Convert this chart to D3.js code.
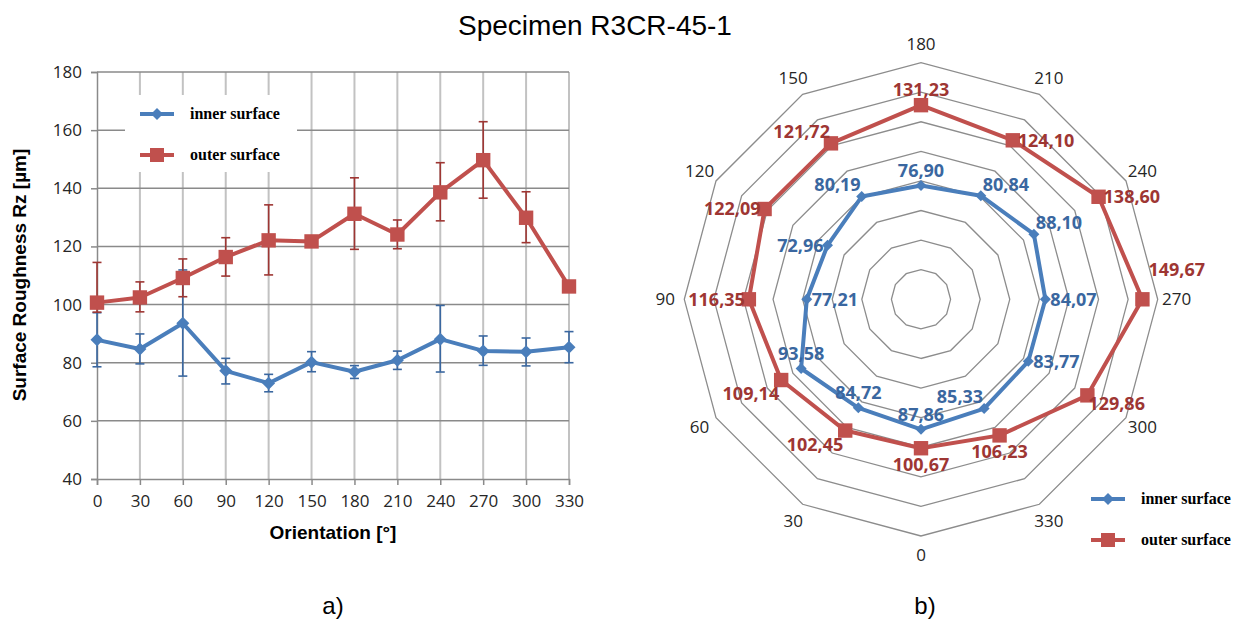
<!DOCTYPE html>
<html>
<head>
<meta charset="utf-8">
<script src="https://cdn.jsdelivr.net/npm/d3@7"></script>
<style>
  body { margin: 0; background: #fff; }
  svg { display: block; }
</style>
</head>
<body>
<svg id="svg" width="1240" height="622"></svg>
<script>
// orientations [deg]
const ORIENTATIONS = [0, 30, 60, 90, 120, 150, 180, 210, 240, 270, 300, 330];
// mean Rz values
const INNER = [87.86, 84.72, 93.58, 77.21, 72.96, 80.19, 76.90, 80.84, 88.10, 84.07, 83.77, 85.33];
const OUTER = [100.67, 102.45, 109.14, 116.35, 122.09, 121.72, 131.23, 124.10, 138.60, 149.67, 129.86, 106.23];
// error bar ends
const INNER_LOW = [78.6, 79.6, 75.4, 72.7, 70.0, 76.9, 74.6, 77.7, 76.8, 79.1, 78.9, 80.0];
const INNER_HIGH = [97.2, 89.9, 111.9, 81.5, 76.0, 83.8, 79.0, 84.0, 99.7, 89.2, 88.5, 90.7];
const OUTER_LOW = [97.4, 97.5, 102.7, 109.8, 110.2, 120.5, 119.0, 119.2, 128.8, 136.6, 121.3, 106.23];
const OUTER_HIGH = [114.5, 107.8, 115.7, 123.0, 134.3, 123.0, 143.6, 129.1, 148.8, 162.9, 138.8, 106.23];
// axis ticks
const Y_TICKS = [40, 60, 80, 100, 120, 140, 160, 180];
const RING_VALUES = [20, 40, 60, 80, 100, 120, 140, 160];
// data label side in the radar chart
const INNER_LABEL_SIDE = ["t", "t", "t", "r", "l", "tl", "t", "tr", "tr", "r", "r", "tl"];
const OUTER_LABEL_SIDE = ["b", "bl", "bl", "l", "l", "tl", "t", "r", "r", "rt", "br", "b"];

const BLUE = "#4a7ebb", RED = "#c0504d";
const BLUE_DARK = "#3a67a0", RED_DARK = "#9e3633";
const TICK_FONT = "'Open Sans', sans-serif";

var svg = d3.select("#svg");

//title
svg.append("text")
        .attr("x", 595).attr("y", 35)
        .attr("text-anchor", "middle")
        .style("font", "28px 'Liberation Sans', Arial, sans-serif")
        .text("Specimen R3CR-45-1");

svg.append("text").attr("x", 333).attr("y", 614).attr("text-anchor", "middle")
        .style("font", "24px 'Liberation Sans', Arial, sans-serif").text("a)");
svg.append("text").attr("x", 925).attr("y", 614).attr("text-anchor", "middle")
        .style("font", "24px 'Liberation Sans', Arial, sans-serif").text("b)");

function diamond(g, cx, cy, h, color) {
    g.append("path")
            .attr("d", "M" + cx + "," + (cy - h) + "L" + (cx + h) + "," + cy + "L" + cx + "," + (cy + h) + "L" + (cx - h) + "," + cy + "Z")
            .attr("fill", color);
}
function square(g, cx, cy, h, color) {
    g.append("rect")
            .attr("x", cx - h).attr("y", cy - h)
            .attr("width", 2 * h).attr("height", 2 * h)
            .attr("fill", color);
}

//---------------- a) line chart with error bars
var scaleX = d3.scalePoint().domain(ORIENTATIONS).range([97, 569]);
var scaleY = d3.scaleLinear().domain([40, 180]).range([479, 72]);

var left = svg.append("g");

//vertical grid
left.selectAll(".vgrid")
        .data(ORIENTATIONS.slice(1))
        .enter().append("line")
        .attr("x1", (d) => scaleX(d)).attr("x2", (d) => scaleX(d))
        .attr("y1", 72).attr("y2", 479)
        .attr("stroke", "#c2c2c2").attr("stroke-width", 2);
//horizontal grid
left.selectAll(".hgrid")
        .data(Y_TICKS.slice(1))
        .enter().append("line")
        .attr("x1", 97).attr("x2", 569)
        .attr("y1", (d) => scaleY(d)).attr("y2", (d) => scaleY(d))
        .attr("stroke", "#8a8a8a").attr("stroke-width", 1.5);

var yAxis = d3.axisLeft(scaleY).tickValues(Y_TICKS).tickSize(6).tickPadding(9);
var gy = left.append("g").attr("transform", "translate(97,0)").call(yAxis);
var xAxis = d3.axisBottom(scaleX).tickSize(6).tickPadding(10);
var gx = left.append("g").attr("transform", "translate(0,479)").call(xAxis);
[gx, gy].forEach(function (g) {
    g.select(".domain").attr("stroke", "#8a8a8a").attr("stroke-width", 1.5);
    g.selectAll(".tick line").attr("stroke", "#8a8a8a").attr("stroke-width", 1.5);
    g.selectAll(".tick text").style("font-family", TICK_FONT).style("font-size", "17px").attr("fill", "#262626");
});

//axis titles
left.append("text")
        .attr("transform", "translate(26,275) rotate(-90)")
        .attr("text-anchor", "middle")
        .style("font", "bold 19px 'Liberation Sans', Arial, sans-serif")
        .text("Surface Roughness Rz [µm]");
left.append("text")
        .attr("x", 333).attr("y", 539)
        .attr("text-anchor", "middle")
        .style("font", "bold 19px 'Liberation Sans', Arial, sans-serif")
        .text("Orientation [°]");

//legend box covers the grid
left.append("rect").attr("x", 125).attr("y", 95).attr("width", 172).attr("height", 77).attr("fill", "#fff");

function errorBars(g, low, high, color) {
    ORIENTATIONS.forEach(function (o, i) {
        if (high[i] - low[i] < 0.5) return;
        var x = scaleX(o);
        g.append("line").attr("x1", x).attr("x2", x)
                .attr("y1", scaleY(low[i])).attr("y2", scaleY(high[i]))
                .attr("stroke", color).attr("stroke-width", 1.6);
        [low[i], high[i]].forEach(function (v) {
            g.append("line").attr("x1", x - 4.5).attr("x2", x + 4.5)
                    .attr("y1", scaleY(v)).attr("y2", scaleY(v))
                    .attr("stroke", color).attr("stroke-width", 1.6);
        });
    });
}

var line = d3.line().x((d) => scaleX(d[0])).y((d) => scaleY(d[1]));

//inner surface
errorBars(left, INNER_LOW, INNER_HIGH, BLUE_DARK);
left.append("path")
        .attr("d", line(ORIENTATIONS.map((o, i) => [o, INNER[i]])))
        .attr("fill", "none").attr("stroke", BLUE).attr("stroke-width", 4).attr("stroke-linejoin", "round");
ORIENTATIONS.forEach((o, i) => diamond(left, scaleX(o), scaleY(INNER[i]), 6.5, BLUE));

//outer surface
errorBars(left, OUTER_LOW, OUTER_HIGH, RED_DARK);
left.append("path")
        .attr("d", line(ORIENTATIONS.map((o, i) => [o, OUTER[i]])))
        .attr("fill", "none").attr("stroke", RED).attr("stroke-width", 4).attr("stroke-linejoin", "round");
ORIENTATIONS.forEach((o, i) => square(left, scaleX(o), scaleY(OUTER[i]), 7.2, RED));

function legend(g, x, y, text, isInner) {
    g.append("line").attr("x1", x).attr("x2", x + 34).attr("y1", y).attr("y2", y)
            .attr("stroke", isInner ? BLUE : RED).attr("stroke-width", 4);
    if (isInner) diamond(g, x + 17, y, 6, BLUE);
    else square(g, x + 17, y, 7, RED);
    g.append("text").attr("x", x + 50).attr("y", y + 5)
            .style("font", "bold 16px 'Liberation Serif', 'Times New Roman', serif")
            .text(text);
}
legend(left, 140, 114, "inner surface", true);
legend(left, 140, 155, "outer surface", false);

//---------------- b) radar chart
var CX = 921, CY = 299.3;
var scaleR = d3.scaleLinear().domain([0, 160]).range([0, 236.7]);

function polar(o, r) {
    var a = ((o - 180 + 360) % 360) * Math.PI / 180;
    return [CX + r * Math.sin(a), CY - r * Math.cos(a)];
}

var radar = svg.append("g");

radar.selectAll(".ring")
        .data(RING_VALUES)
        .enter().append("polygon")
        .attr("points", (v) => ORIENTATIONS.map((o) => polar(o, scaleR(v)).join(",")).join(" "))
        .attr("fill", "none").attr("stroke", "#8c8c8c").attr("stroke-width", 1.3);

radar.selectAll(".angle")
        .data(ORIENTATIONS)
        .enter().append("text")
        .attr("x", (o) => polar(o, scaleR(160) + 19)[0])
        .attr("y", (o) => polar(o, scaleR(160) + 19)[1])
        .attr("dy", "0.35em")
        .attr("text-anchor", "middle")
        .style("font-family", TICK_FONT).style("font-size", "17px").attr("fill", "#262626")
        .text((o) => o);

var radarLine = d3.line().x((d) => polar(d[0], scaleR(d[1]))[0]).y((d) => polar(d[0], scaleR(d[1]))[1]).curve(d3.curveLinearClosed);

radar.append("path")
        .attr("d", radarLine(ORIENTATIONS.map((o, i) => [o, INNER[i]])))
        .attr("fill", "none").attr("stroke", BLUE).attr("stroke-width", 4).attr("stroke-linejoin", "round");
radar.append("path")
        .attr("d", radarLine(ORIENTATIONS.map((o, i) => [o, OUTER[i]])))
        .attr("fill", "none").attr("stroke", RED).attr("stroke-width", 4).attr("stroke-linejoin", "round");
ORIENTATIONS.forEach(function (o, i) {
    var p = polar(o, scaleR(INNER[i]));
    diamond(radar, p[0], p[1], 5.5, BLUE);
    var q = polar(o, scaleR(OUTER[i]));
    square(radar, q[0], q[1], 7.2, RED);
});

//label offset per side: dx, dy, anchor
const SIDES = {
    t: [0, -15, "middle"], b: [0, 16, "middle"],
    l: [-4, 0, "end"], r: [5, 0, "start"],
    tl: [-1, -12, "end"], tr: [2, -11, "start"],
    bl: [-2, 14, "end"], br: [1, 8, "start"],
    rt: [6, -30, "start"]
};
function dataLabels(values, sides, color) {
    ORIENTATIONS.forEach(function (o, i) {
        var p = polar(o, scaleR(values[i]));
        var s = SIDES[sides[i]];
        radar.append("text")
                .attr("x", p[0] + s[0]).attr("y", p[1] + s[1])
                .attr("dy", "0.35em")
                .attr("text-anchor", s[2])
                .style("font-family", TICK_FONT).style("font-weight", "bold").style("font-size", "18px")
                .attr("fill", color)
                .text(values[i].toFixed(2).replace(".", ","));
    });
}
dataLabels(INNER, INNER_LABEL_SIDE, BLUE_DARK);
dataLabels(OUTER, OUTER_LABEL_SIDE, RED_DARK);

legend(radar, 1091, 499, "inner surface", true);
legend(radar, 1091, 540, "outer surface", false);
</script>
</body>
</html>
